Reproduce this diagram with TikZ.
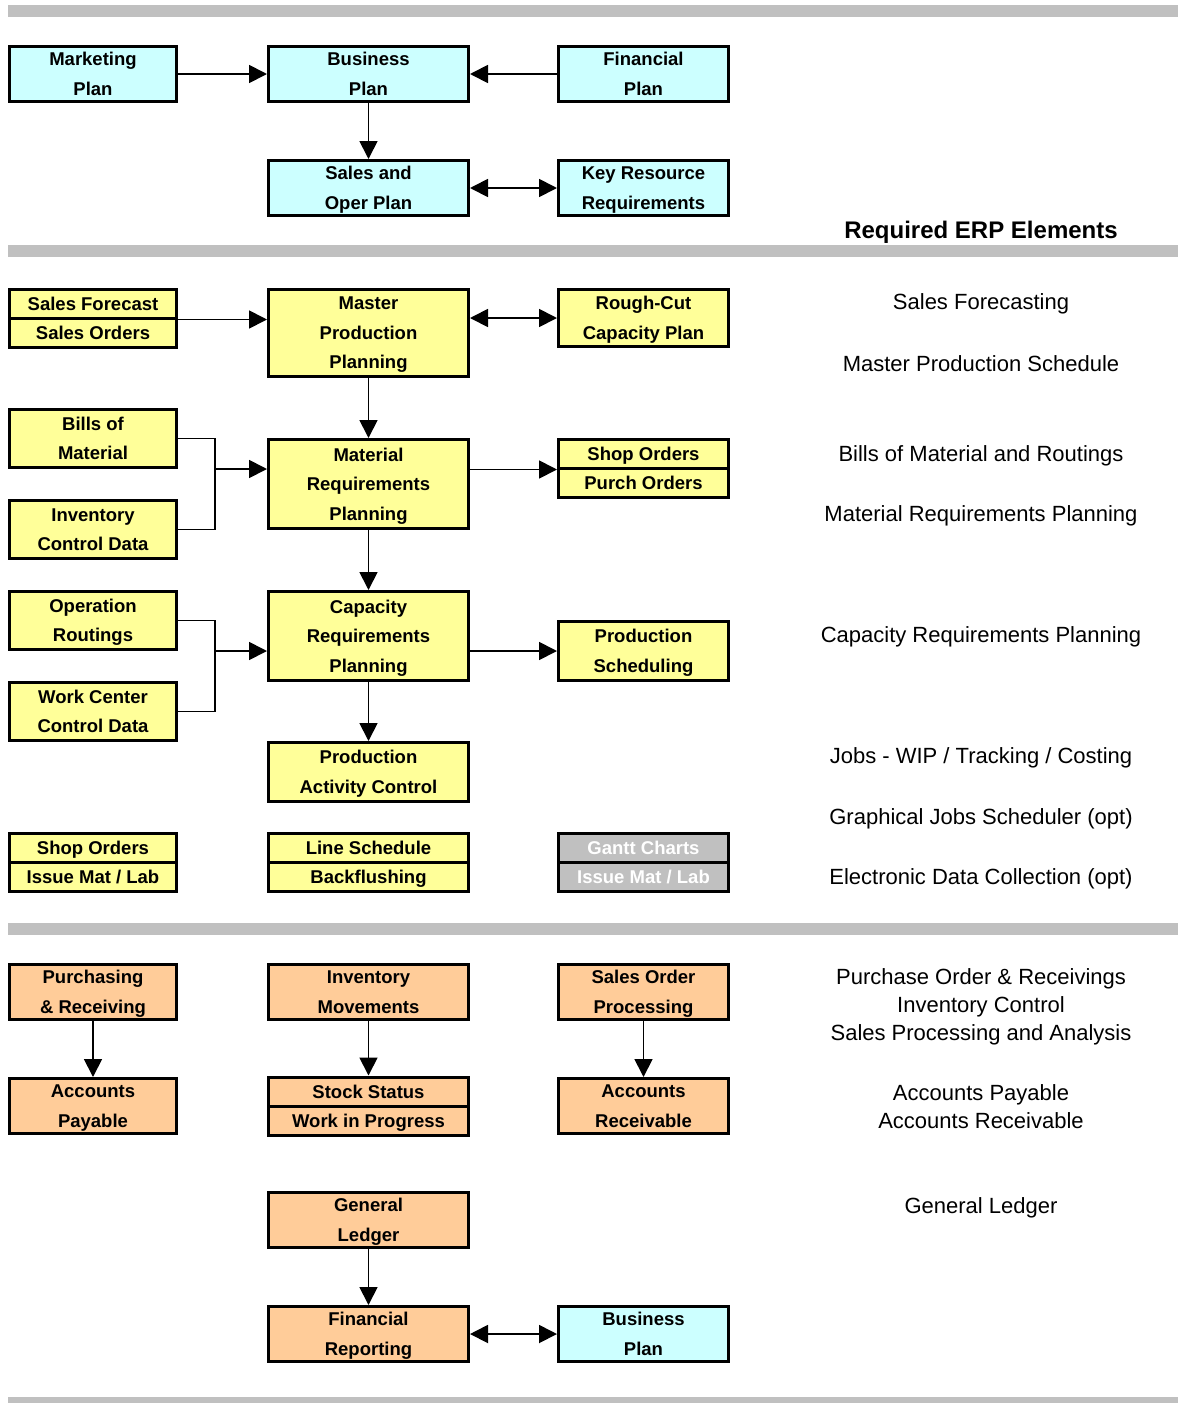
\documentclass[tikz,border=0pt]{standalone}
\usepackage{fontspec}
\setmainfont{Liberation Sans}
\usetikzlibrary{arrows.meta}
\definecolor{plancyan}{HTML}{CCFFFF}
\definecolor{mfgyellow}{HTML}{FFFF99}
\definecolor{acctorange}{HTML}{FFCC99}
\definecolor{bargray}{HTML}{C0C0C0}
\tikzset{blk/.style = {draw,line width = 3pt,fill = #1,align = center,inner sep = 0pt,text depth = 0pt,font = \bfseries\fontsize{18.5}{29.5}\selectfont},
lw/.style = {minimum width = 167pt},mw/.style = {minimum width = 200pt},rw/.style = {minimum width = 170pt},
arrow/.style = {-{Triangle[length = 18pt,width = 18pt]},line width = 1.8pt},
twoway/.style = {{Triangle[length = 18pt,width = 18pt]}-{Triangle[length = 18pt,width = 18pt]},line width = 1.8pt},
elem/.style = {font = \fontsize{22}{28}\selectfont,align = center}}

\begin{document}
\begin{tikzpicture}[x = 1pt,y = -1pt]
\useasboundingbox (0,0) rectangle (1178,1403);
% section bars
\fill[bargray] (8,5) rectangle (1178,17);
\fill[bargray] (8,245) rectangle (1178,257);
\fill[bargray] (8,923) rectangle (1178,935);
\fill[bargray] (8,1397) rectangle (1178,1403);

% planning
\node[blk = plancyan,lw,minimum height = 55pt] (mkt) at (93,74) {Marketing \\ Plan};
\node[blk = plancyan,mw,minimum height = 55pt] (bus) at (368.5,74) {Business \\ Plan};
\node[blk = plancyan,rw,minimum height = 55pt] (fin) at (643.5,74) {Financial \\ Plan};
\node[blk = plancyan,mw,minimum height = 55pt] (sop) at (368.5,188) {Sales and \\ Oper Plan};
\node[blk = plancyan,rw,minimum height = 55pt] (krr) at (643.5,188) {Key Resource \\ Requirements};

\draw[arrow] (mkt) -- (bus);
\draw[arrow] (fin) -- (bus);
\draw[arrow] (bus) -- (sop);
\draw[twoway] (sop) -- (krr);

% manufacturing
\node[blk = mfgyellow,lw,minimum height = 29pt] (sf) at (93,303.5) {Sales Forecast};
\node[blk = mfgyellow,lw,minimum height = 29pt] (so) at (93,332.5) {Sales Orders};
\node[blk = mfgyellow,mw,minimum height = 87pt] (mps) at (368.5,333) {Master \\ Production \\ Planning};
\node[blk = mfgyellow,rw,minimum height = 57pt] (rccp) at (643.5,318) {Rough-Cut \\ Capacity Plan};

\node[blk = mfgyellow,lw,minimum height = 58pt] (bom) at (93,438.5) {Bills of \\ Material};
\node[blk = mfgyellow,lw,minimum height = 58pt] (inv) at (93,529.5) {Inventory \\ Control Data};
\node[blk = mfgyellow,mw,minimum height = 89pt] (mrp) at (368.5,484) {Material \\ Requirements \\ Planning};
\node[blk = mfgyellow,rw,minimum height = 29pt] (shop) at (643.5,453.5) {Shop Orders};
\node[blk = mfgyellow,rw,minimum height = 29pt] (purch) at (643.5,482.5) {Purch Orders};

\node[blk = mfgyellow,lw,minimum height = 58pt] (rout) at (93,620.5) {Operation \\ Routings};
\node[blk = mfgyellow,lw,minimum height = 58pt] (wc) at (93,711.5) {Work Center \\ Control Data};
\node[blk = mfgyellow,mw,minimum height = 89pt] (crp) at (368.5,636) {Capacity \\ Requirements \\ Planning};
\node[blk = mfgyellow,rw,minimum height = 59pt] (psch) at (643.5,651) {Production \\ Scheduling};
\node[blk = mfgyellow,mw,minimum height = 59pt] (pac) at (368.5,772) {Production \\ Activity Control};

\node[blk = mfgyellow,lw,minimum height = 29pt] (shop2) at (93,847.5) {Shop Orders};
\node[blk = mfgyellow,lw,minimum height = 29pt] (issue) at (93,876.5) {Issue Mat / Lab};
\node[blk = mfgyellow,mw,minimum height = 29pt] (line) at (368.5,847.5) {Line Schedule};
\node[blk = mfgyellow,mw,minimum height = 29pt] (back) at (368.5,876.5) {Backflushing};
\node[blk = bargray,rw,minimum height = 29pt,text = white] (gantt) at (643.5,847.5) {Gantt Charts};
\node[blk = bargray,rw,minimum height = 29pt,text = white] (issue2) at (643.5,876.5) {Issue Mat / Lab};

\coordinate (j1) at (215,469);
\coordinate (j2) at (215,651);

\draw[arrow] (sf.south east) -- (sf.south east -| mps.west);
\draw[twoway] (mps.east |- rccp.west) -- (rccp);
\draw[arrow] (mps) -- (mrp);
\draw[line width = 1.5pt] (bom.east) -| (j1) |- (inv.east);
\draw[arrow] (j1) -- (j1 -| mrp.west);
\draw[arrow] (mrp.east |- shop.south east) -- (shop.south west);
\draw[arrow] (mrp) -- (crp);
\draw[line width = 1.5pt] (rout.east) -| (j2) |- (wc.east);
\draw[arrow] (j2) -- (j2 -| crp.west);
\draw[arrow] (crp.east |- psch.west) -- (psch);
\draw[arrow] (crp) -- (pac);

% accounting
\node[blk = acctorange,lw,minimum height = 55pt] (pr) at (93,992) {Purchasing \\ \& Receiving};
\node[blk = acctorange,mw,minimum height = 55pt] (im) at (368.5,992) {Inventory \\ Movements};
\node[blk = acctorange,rw,minimum height = 55pt] (sop2) at (643.5,992) {Sales Order \\ Processing};
\node[blk = acctorange,lw,minimum height = 55pt] (ap) at (93,1106) {Accounts \\ Payable};
\node[blk = acctorange,mw,minimum height = 29pt] (ss) at (368.5,1091.5) {Stock Status};
\node[blk = acctorange,mw,minimum height = 29pt] (wip) at (368.5,1120.5) {Work in Progress};
\node[blk = acctorange,rw,minimum height = 55pt] (ar) at (643.5,1106) {Accounts \\ Receivable};
\node[blk = acctorange,mw,minimum height = 55pt] (gl) at (368.5,1220) {General \\ Ledger};
\node[blk = acctorange,mw,minimum height = 55pt] (frep) at (368.5,1334) {Financial \\ Reporting};
\node[blk = plancyan,rw,minimum height = 55pt] (bus2) at (643.5,1334) {Business \\ Plan};

\draw[arrow] (pr) -- (ap);
\draw[arrow] (im) -- (ss);
\draw[arrow] (sop2) -- (ar);
\draw[arrow] (gl) -- (frep);
\draw[twoway] (frep) -- (bus2);

% element list
\node[font = \bfseries\fontsize{24}{28}\selectfont] (hdr) at (981,232) {Required ERP Elements};
\node[elem] (e1) at (981,304) {Sales Forecasting};
\node[elem] (e2) at (981,364) {Master Production Schedule};
\node[elem] (e3) at (981,456) {Bills of Material and Routings};
\node[elem] (e4) at (981,516) {Material Requirements Planning};
\node[elem] (e5) at (981,637) {Capacity Requirements Planning};
\node[elem] (e6) at (981,758) {Jobs - WIP / Tracking / Costing};
\node[elem] (e7) at (981,819) {Graphical Jobs Scheduler (opt)};
\node[elem] (e8) at (981,879) {Electronic Data Collection (opt)};
\node[elem] (e9) at (981,1007) {Purchase Order \& Receivings \\ Inventory Control \\ Sales Processing and Analysis};
\node[elem] (e10) at (981,1107) {Accounts Payable \\ Accounts Receivable};
\node[elem] (e11) at (981,1208) {General Ledger};
\end{tikzpicture}
\end{document}
